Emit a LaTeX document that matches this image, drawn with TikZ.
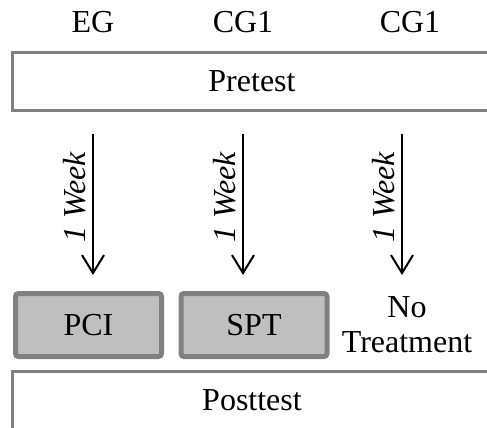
\documentclass[tikz,border=0pt]{standalone}
\usepackage{fontspec}
\setmainfont{Liberation Serif}
\usepackage{tikz}
\usetikzlibrary{arrows.meta}

\definecolor{boxgray}{RGB}{128,128,128}
\definecolor{boxfill}{RGB}{191,191,191}

\begin{document}
\begin{tikzpicture}[x=1pt,y=-1pt,
  every node/.style={font=\fontsize{32}{35}\selectfont, inner sep=0pt},
  testbox/.style={draw=boxgray, line width=3pt, minimum width=480pt, minimum height=58pt},
  treatbox/.style={draw=boxgray, fill=boxfill, line width=5pt, rounded corners=3pt,
    minimum width=146pt, minimum height=63pt},
  week/.style={font=\fontsize{32}{35}\selectfont\itshape, rotate=90, anchor=base},
  weekarrow/.style={line width=2pt, -{Straight Barb[length=18pt,width=22pt,line width=2pt]}}]
  \useasboundingbox (0,0) rectangle (487,428);
  \clip (0,0) rectangle (487,428);

  \node[anchor=base] (eg) at (93,33) {EG};
  \node[anchor=base] (cga) at (243,33) {CG1};
  \node[anchor=base] (cgb) at (410,33) {CG1};

  \node[testbox] (pretest) at (252,81.5) {Pretest};

  \coordinate (s1) at (93,134);  \coordinate (e1) at (93,275);
  \coordinate (s2) at (243,134); \coordinate (e2) at (243,275);
  \coordinate (s3) at (402,134); \coordinate (e3) at (402,275);
  \draw[weekarrow] (s1) -- (e1);
  \draw[weekarrow] (s2) -- (e2);
  \draw[weekarrow] (s3) -- (e3);
  \node[week] (w1) at (85,197) {1 Week};
  \node[week] (w2) at (235,197) {1 Week};
  \node[week] (w3) at (394,197) {1 Week};

  \node[treatbox] (pci) at (88.5,325) {PCI};
  \node[treatbox] (spt) at (254,325) {SPT};
  \node[align=center] (none) at (407,325) {No\\Treatment};

  \node[testbox] (posttest) at (252,400.6) {Posttest};
\end{tikzpicture}
\end{document}
